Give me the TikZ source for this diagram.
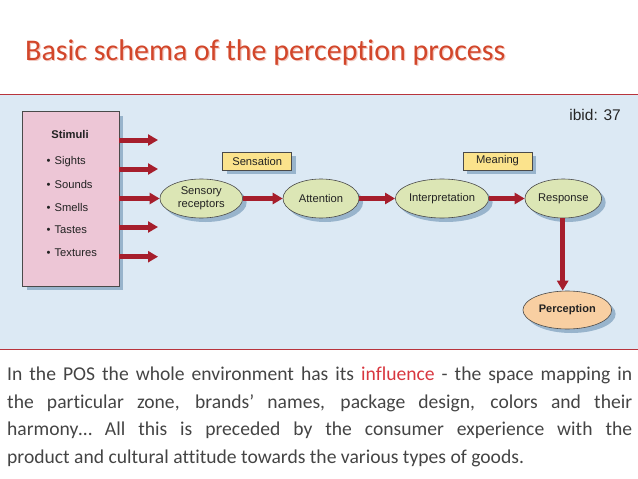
\documentclass[tikz,border=0pt]{standalone}
\usepackage{fontspec}
\setmainfont{Carlito}[Ligatures=NoCommon]
\newfontfamily\diagfont{Liberation Sans}
\usetikzlibrary{shapes.geometric,arrows.meta,shadows}

\definecolor{titlered}{HTML}{D2462A}
\definecolor{rulered}{HTML}{B8343C}
\definecolor{panelblue}{HTML}{DCE9F4}
\definecolor{arrowred}{HTML}{A61E2C}
\definecolor{stagegreen}{HTML}{DCE6B5}
\definecolor{tagyellow}{HTML}{FBE38C}
\definecolor{stimpink}{HTML}{EDC6D6}
\definecolor{perpeach}{HTML}{F8CFA2}
\definecolor{shadowblue}{HTML}{98B4CC}
\definecolor{darkline}{HTML}{4A4A4A}
\definecolor{diagtext}{HTML}{222222}
\definecolor{bodygray}{HTML}{444444}
\definecolor{influred}{HTML}{D8363F}

\tikzset{
  flow/.style={line width=5pt,draw=arrowred,-{Triangle[length=10pt,width=11pt]}},
  boxshadow/.style={drop shadow={shadow xshift=4pt,shadow yshift=-4pt,fill=shadowblue,opacity=1}},
  stage/.style={ellipse,draw=darkline,line width=0.6pt,fill=stagegreen,
    minimum height=39pt,inner sep=0pt,align=center,text=diagtext,
    font=\diagfont\fontsize{11.2}{13.3}\selectfont,boxshadow},
  tag/.style={rectangle,draw=darkline,line width=0.6pt,fill=tagyellow,
    minimum width=69pt,minimum height=18.3pt,inner sep=0pt,text=diagtext,
    font=\diagfont\fontsize{11.2}{12}\selectfont,boxshadow},
  listitem/.style={anchor=west,inner sep=0pt,text=diagtext,
    font=\diagfont\fontsize{11.2}{12}\selectfont},
  body/.style={text width=625pt,align=justify,inner sep=0pt,text=bodygray,
    font=\fontsize{19.6}{27.7}\selectfont}
}

\begin{document}
\begin{tikzpicture}[x=1pt,y=-1pt]
\useasboundingbox (0,0) rectangle (638,479);

% heading
\node[anchor=base west,inner sep=0pt,text=titlered!30,font=\fontsize{30}{36}\selectfont] (titleshade) at (26.2,61.2) {Basic schema of the perception process};
\node[anchor=base west,inner sep=0pt,text=titlered,font=\fontsize{30}{36}\selectfont] (title) at (25,60) {Basic schema of the perception process};

% panel with the diagram
\fill[panelblue] (0,94.5) rectangle (638,349.5);
\draw[rulered,line width=0.8pt] (0,94.5) -- (638,94.5);
\draw[rulered,line width=0.8pt] (0,349.5) -- (638,349.5);
\node[anchor=base east,inner sep=0pt,text=black!85,font=\diagfont\fontsize{15.5}{18}\selectfont] (ibid) at (621,120) {ibid: 37};

% stimuli
\node[draw=darkline,line width=0.6pt,fill=stimpink,minimum width=96.3pt,minimum height=174.3pt,inner sep=0pt,boxshadow] (stimuli) at (70.85,198.85) {};
\node[inner sep=0pt,text=diagtext,font=\diagfont\bfseries\fontsize{11.2}{12}\selectfont] (stimhead) at (70,134.3) {Stimuli};
\foreach \stim [count=\i] in {Sights,Sounds,Smells,Tastes,Textures}
  \node[listitem] (item\i) at (46.5,{161.7+22.65*(\i-1)}) {\textbullet\hspace{4pt}\stim};

% stages
\node[stage,minimum width=82.7pt] (sensory) at (201.3,198.5) {Sensory\\receptors};
\node[stage,minimum width=76pt] (attention) at (321,198.5) {Attention};
\node[stage,minimum width=84pt] (interp) at (442,198.5) {Interpretation};
\node[stage,minimum width=76.7pt] (response) at (563.3,198.5) {Response};
\node[stage,minimum width=88.7pt,minimum height=38pt,fill=perpeach,font=\diagfont\bfseries\fontsize{11}{12}\selectfont] (percep) at (567.3,310) {Perception};
\node[tag] (sensation) at (257.2,161) {Sensation};
\node[tag] (meaning) at (497.5,161) {Meaning};

% arrows out of the stimuli box
\coordinate (s1) at (158,140);
\coordinate (s2) at (158,169);
\coordinate (s4) at (158,227);
\coordinate (s5) at (158,256.7);
\foreach \c in {s1,s2,s4,s5}
  \draw[flow] (stimuli.east |- \c) -- (\c);
\draw[flow] (stimuli.east |- sensory) -- (sensory.west);

% chain
\draw[flow] (sensory) -- (attention);
\draw[flow] (attention) -- (interp);
\draw[flow] (interp) -- (response);
\draw[flow] (response.south -| 562.7,0) -- (percep.north -| 562.7,0);

% text under the panel
\node[body,anchor=north west] (body) at (7,366.5) {In the POS the whole environment has its \textcolor{influred}{influence} - the space mapping in\linebreak the particular zone, brands’ names, package design, colors and their\linebreak harmony… All this is preceded by the consumer experience with the\linebreak product and cultural attitude towards the various types of goods.};
\end{tikzpicture}
\end{document}
